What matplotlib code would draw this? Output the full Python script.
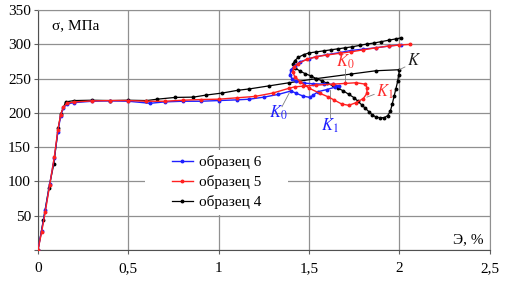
import matplotlib.pyplot as plt
from matplotlib.patches import Rectangle

plt.rcParams['font.family'] = ['Liberation Serif', 'DejaVu Serif']
plt.rcParams['mathtext.fontset'] = 'stix'

# образец 6 (blue)
x6 = [0, 0.02, 0.04, 0.065, 0.09, 0.11, 0.125, 0.14, 0.16, 0.2, 0.3, 0.4, 0.5, 0.62,
      0.7, 0.8, 0.9, 1.0, 1.1, 1.17, 1.25, 1.33, 1.40, 1.43, 1.467, 1.504, 1.523, 1.55,
      1.597, 1.643, 1.666, 1.633, 1.58, 1.52, 1.47, 1.43, 1.405, 1.395, 1.40, 1.42, 1.45,
      1.5, 1.54, 1.6, 1.67, 1.73, 1.8, 1.87, 1.94, 2.01]
y6 = [0, 28, 58, 96, 134, 172, 195, 207, 213, 215, 217, 217.5, 217, 214,
      216, 217, 217, 218, 219, 220, 223, 227, 232, 228.5, 224.5, 222.6, 226, 231,
      234, 237.5, 239, 241.5, 242, 242.5, 243.5, 246, 250, 256, 263, 269, 274.5,
      279, 282, 285, 288, 291, 293, 295, 297.5, 299.5]

# образец 5 (red)
x5 = [0, 0.02, 0.04, 0.065, 0.09, 0.11, 0.125, 0.14, 0.16, 0.2, 0.3, 0.4, 0.5, 0.6,
      0.7, 0.8, 0.9, 1.0, 1.1, 1.2, 1.3, 1.39, 1.42, 1.467, 1.54, 1.633, 1.70, 1.76,
      1.81, 1.82, 1.82, 1.80, 1.76, 1.72, 1.68, 1.64, 1.605, 1.56, 1.50, 1.45, 1.42,
      1.41, 1.415, 1.44, 1.486, 1.54, 1.6, 1.67, 1.73, 1.8, 1.87, 1.94, 2.0, 2.06]
y5 = [0, 26, 55, 95, 135, 175, 197, 208, 214, 216, 217.5, 218, 218, 217,
      217, 218.5, 219.5, 220, 222, 224, 229, 236, 238, 239, 240.5, 242, 243, 244,
      242, 237, 228.5, 221, 215, 211, 213, 218.6, 223.5, 228.5, 236, 245.6, 253,
      260, 267, 272, 278, 282, 284.5, 287, 289, 292, 295, 297.5, 299, 300]

# образец 4 (black)
x4 = [0, 0.03, 0.06, 0.088, 0.112, 0.127, 0.153, 0.2, 0.3, 0.4, 0.5, 0.6, 0.66,
      0.76, 0.86, 0.93, 1.02, 1.106, 1.17, 1.28, 1.39, 1.54, 1.73, 1.87, 2.0,
      1.995, 1.99, 1.98, 1.97, 1.96, 1.95, 1.935, 1.915, 1.89, 1.87, 1.85, 1.83,
      1.81, 1.79, 1.77, 1.75, 1.72, 1.69, 1.66, 1.63, 1.60, 1.57, 1.54, 1.51, 1.48,
      1.45, 1.42, 1.41, 1.42, 1.44, 1.47, 1.50, 1.54, 1.58, 1.62, 1.66, 1.70, 1.74,
      1.78, 1.82, 1.86, 1.90, 1.94, 1.98, 2.01]
y4 = [0, 44, 90, 126, 178, 199, 216, 218, 218.5, 218, 218.5, 218, 220,
      222.6, 223, 226, 229, 233, 235, 239.5, 244, 250, 256.6, 261.5, 263,
      255, 246, 235, 224, 213, 203, 196, 193, 193, 194, 197, 202,
      207, 212, 217, 222, 227, 232, 236, 240, 243, 247, 250, 254, 257,
      261, 266, 271, 276, 281, 285, 287.5, 289, 290.5, 292, 293.5, 295, 296.5,
      298.5, 300.5, 302, 304, 306, 308, 309.5]

xticks = [0, 0.5, 1, 1.5, 2, 2.5]
xticklabels = ['0', '0,5', '1', '1,5', '2', '2,5']
yticks = [0, 50, 100, 150, 200, 250, 300, 350]
yticklabels = ['', '50', '100', '150', '200', '250', '300', '350']

fig = plt.figure(figsize=(5.05, 2.88), dpi=100)
ax = fig.add_axes([0.0752, 0.132, 0.8948, 0.833])

ax.plot(x6, y6, color='#1f1fff', lw=1, marker='o', ms=1.8, label='образец 6', zorder=3)
ax.plot(x5, y5, color='#ff2020', lw=1, marker='o', ms=1.8, label='образец 5', zorder=4)
ax.plot(x4, y4, color='black', lw=0.9, marker='o', ms=1.8, label='образец 4', zorder=2)

ax.set_xlim(0, 2.5)
ax.set_ylim(0, 350)
ax.set_xticks(xticks)
ax.set_xticklabels(xticklabels)
ax.set_yticks(yticks)
ax.set_yticklabels(yticklabels)
ax.tick_params(direction='out', length=3, width=0.8, color='#606060', labelsize=11)
ax.tick_params(axis='x', pad=6)
ax.tick_params(axis='y', pad=2)
ax.grid(True, color='#909090', lw=0.9)
ax.set_axisbelow(True)
for s in ['top', 'right']:
    ax.spines[s].set_color('#909090')
for s in ['left', 'bottom']:
    ax.spines[s].set_color('#505050')

# white box behind legend hides the grid
ax.add_patch(Rectangle((0.237, 0.146), 0.316, 0.27, transform=ax.transAxes,
                       facecolor='white', edgecolor='none', zorder=1))
ax.legend(loc='center', bbox_to_anchor=(0.395, 0.283), frameon=False, fontsize=11,
          handlelength=1.4, handletextpad=0.4, labelspacing=0.4)

ax.text(0.031, 0.933, 'σ, МПа', transform=ax.transAxes, fontsize=11, va='center')
ax.text(0.986, 0.042, 'Э, %', transform=ax.transAxes, fontsize=11, ha='right', va='center')

# point labels with leader lines
lc = '#808080'
ax.plot([2.0, 2.03], [263, 267], color=lc, lw=0.6)
ax.text(2.04, 276, '$K$', fontsize=12, color='#202020', va='center')
ax.plot([1.70, 1.70], [243, 264], color=lc, lw=0.6)
ax.text(1.70, 274, '$K_0$', fontsize=12, color='#ff3030', ha='center', va='center')
ax.plot([1.82, 1.86], [223, 227], color=lc, lw=0.6)
ax.text(1.87, 231, '$K_1$', fontsize=12, color='#ff3030', va='center')
ax.plot([1.39, 1.35], [229, 209], color=lc, lw=0.6)
ax.text(1.33, 200, '$K_0$', fontsize=12, color='#2020ff', ha='center', va='center')
ax.plot([1.615, 1.615], [233, 192], color=lc, lw=0.6)
ax.text(1.615, 181, '$K_1$', fontsize=12, color='#2020ff', ha='center', va='center')

fig.savefig('out.png', dpi=100)
